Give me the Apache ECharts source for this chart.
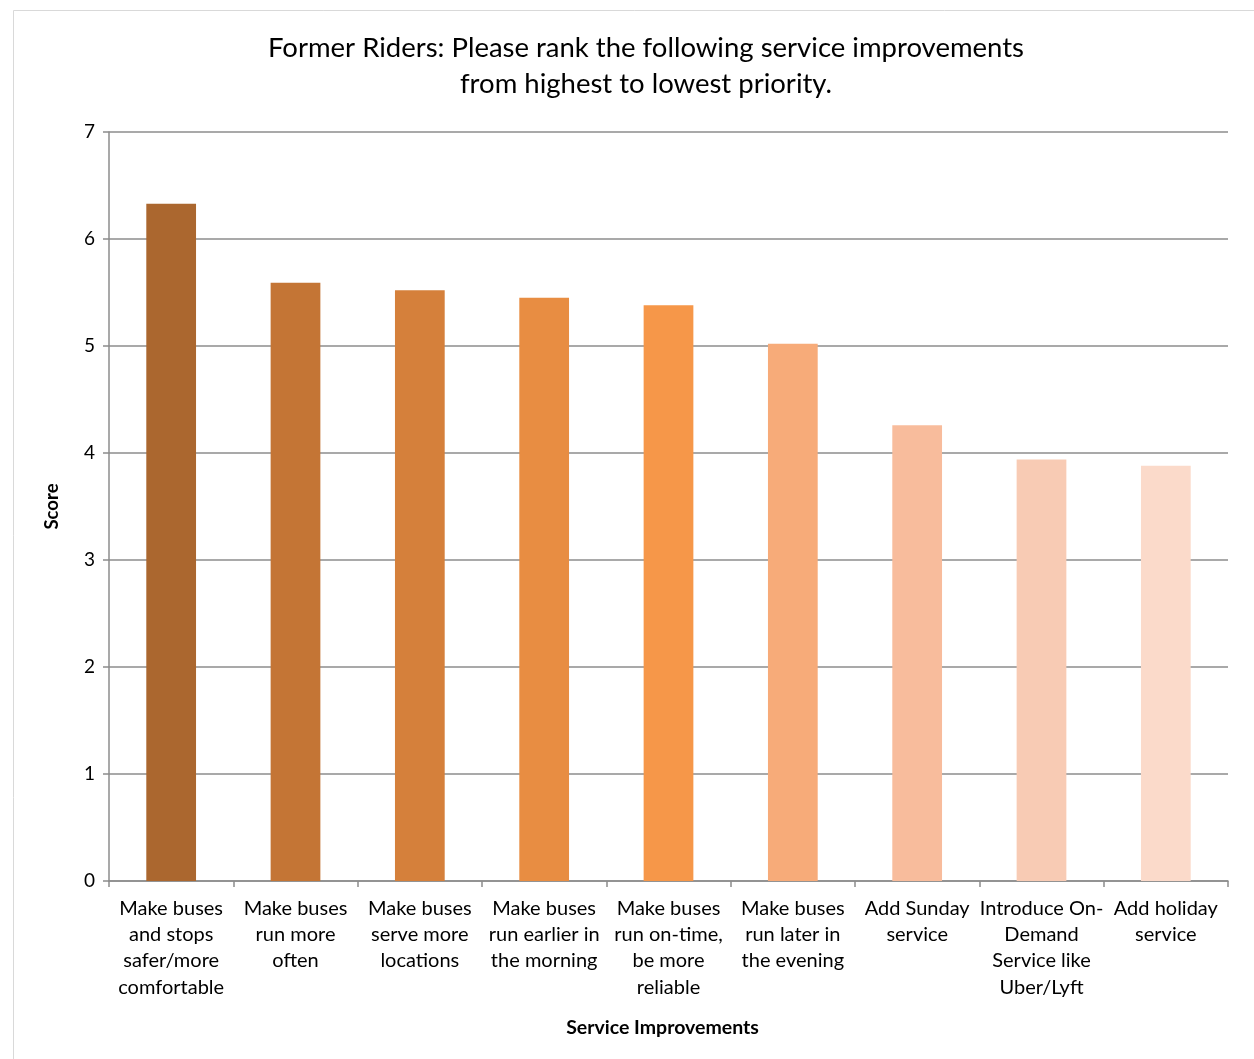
<!DOCTYPE html>
<html>
<head>
<meta charset="utf-8">
<script src="https://cdn.jsdelivr.net/npm/echarts@6/dist/echarts.min.js"></script>
<style>html,body{margin:0;padding:0;background:#fff}#c{width:1254px;height:1059px}</style>
</head>
<body>
<div id="c"></div>
<script>
const titleText = 'Former Riders: Please rank the following service improvements\nfrom highest to lowest priority.';
const categories = [
  'Make buses\nand stops\nsafer/more\ncomfortable',
  'Make buses\nrun more\noften',
  'Make buses\nserve more\nlocations',
  'Make buses\nrun earlier in\nthe morning',
  'Make buses\nrun on-time,\nbe more\nreliable',
  'Make buses\nrun later in\nthe evening',
  'Add Sunday\nservice',
  'Introduce On-\nDemand\nService like\nUber/Lyft',
  'Add holiday\nservice'
];
const scores = [6.33, 5.59, 5.52, 5.45, 5.38, 5.02, 4.26, 3.94, 3.88];
const barColors = ['#AB672F', '#C47535', '#D5803B', '#E88D42', '#F69749', '#F7AB79', '#F8BC9C', '#F8CBB4', '#FBDACA'];
const xAxisName = 'Service Improvements';
const yAxisName = 'Score';

const FONT = 'Lato, "Open Sans", sans-serif';
const chart = echarts.init(document.getElementById('c'), null, {renderer: 'canvas'});
chart.setOption({
  backgroundColor: '#fff',
  animation: false,
  graphic: [{
    type: 'rect', left: 11, top: 8, silent: true,
    shape: {x: 0, y: 0, width: 1300, height: 1100},
    style: {fill: 'none', stroke: '#d9d9d9', lineWidth: 1}
  }],
  title: {
    text: titleText,
    left: 641, top: 25, textAlign: 'center',
    textStyle: {fontFamily: FONT, fontWeight: 'normal', fontSize: 27.5, lineHeight: 36, color: '#000'}
  },
  grid: {left: 109, right: 26, top: 132, bottom: 178, containLabel: false},
  xAxis: {
    type: 'category',
    data: categories,
    name: xAxisName,
    nameLocation: 'middle',
    nameGap: 137,
    nameTextStyle: {fontFamily: FONT, fontWeight: 'bold', fontSize: 19.5, color: '#000', padding: [0, 12, 0, 0]},
    axisLine: {lineStyle: {color: '#8c8c8c', width: 1.5}},
    axisTick: {show: true, alignWithLabel: false, length: 6, lineStyle: {color: '#8c8c8c', width: 1.5}},
    axisLabel: {interval: 0, fontFamily: FONT, fontSize: 20, lineHeight: 26.4, color: '#000', margin: 14, align: 'center'}
  },
  yAxis: {
    type: 'value',
    min: 0, max: 7, interval: 1,
    name: yAxisName,
    nameLocation: 'middle',
    nameGap: 47,
    nameRotate: 90,
    nameTextStyle: {fontFamily: FONT, fontWeight: 'bold', fontSize: 18.5, color: '#000'},
    axisLine: {show: true, lineStyle: {color: '#8c8c8c', width: 1.5}},
    axisTick: {show: true, length: 6, lineStyle: {color: '#8c8c8c', width: 1.5}},
    axisLabel: {fontFamily: FONT, fontSize: 19, color: '#000', margin: 14},
    splitLine: {show: true, lineStyle: {color: '#8c8c8c', width: 1.5}}
  },
  series: [{
    type: 'bar',
    data: scores.map((v, i) => ({value: v, itemStyle: {color: barColors[i]}})),
    barWidth: '40%'
  }]
});
</script>
</body>
</html>
